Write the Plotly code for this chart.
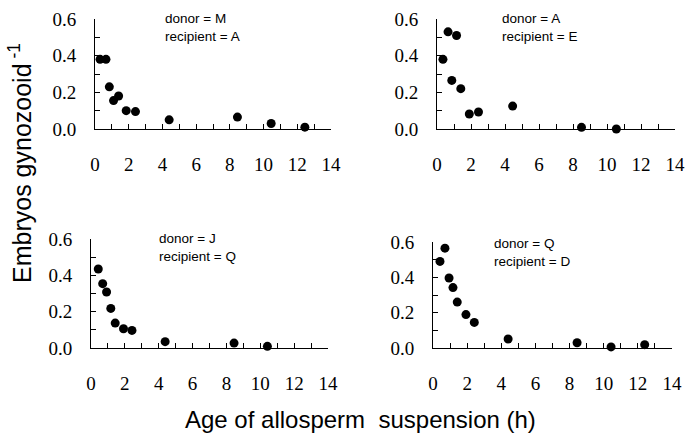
import plotly.graph_objects as go

W, H = 687, 435

# ---- data ----
x_mA = [0.3, 0.65, 0.85, 1.1, 1.4, 1.85, 2.4, 4.4, 8.45, 10.45, 12.45]
y_mA = [0.38, 0.38, 0.23, 0.155, 0.18, 0.10, 0.095, 0.05, 0.065, 0.03, 0.01]

x_aE = [0.35, 0.65, 0.87, 1.15, 1.4, 1.9, 2.44, 4.45, 8.5, 10.55]
y_aE = [0.38, 0.53, 0.265, 0.51, 0.22, 0.082, 0.093, 0.125, 0.009, 0.0]

x_jQ = [0.43, 0.69, 0.92, 1.17, 1.43, 1.92, 2.42, 4.38, 8.45, 10.42]
y_jQ = [0.435, 0.354, 0.308, 0.218, 0.137, 0.106, 0.097, 0.035, 0.027, 0.009]

x_qD = [0.41, 0.7, 0.94, 1.17, 1.42, 1.93, 2.42, 4.4, 8.44, 10.43, 12.4]
y_qD = [0.49, 0.565, 0.396, 0.342, 0.26, 0.189, 0.145, 0.051, 0.03, 0.006, 0.019]

panel_labels = ["donor = M<br>recipient = A", "donor = A<br>recipient = E",
                "donor = J<br>recipient = Q", "donor = Q<br>recipient = D"]
x_ticks = [0, 2, 4, 6, 8, 10, 12, 14]
y_ticks = [0.0, 0.2, 0.4, 0.6]
y_tick_text = ["0.0", "0.2", "0.4", "0.6"]
x_title = "Age of allosperm\u00a0 suspension (h)"
y_title = "Embryos gynozooid<sup> -1</sup>"

series = [(x_mA, y_mA), (x_aE, y_aE), (x_jQ, y_jQ), (x_qD, y_qD)]

# pixel boxes of each panel (left, right, top, bottom)
boxes = [(95, 331, 19, 129), (437, 675, 19, 129), (91, 328, 239, 348), (433, 672, 242, 348)]
label_pos = [(163, 9), (500, 9), (157, 229), (492, 234)]

fig = go.Figure()
serif = "Liberation Serif, Times New Roman, serif"
sans = "Liberation Sans, Arial, sans-serif"

for i, ((xs, ys), (l, r, t, b)) in enumerate(zip(series, boxes)):
    n = "" if i == 0 else str(i + 1)
    fig.add_trace(go.Scatter(x=xs, y=ys, mode="markers", xaxis="x" + n, yaxis="y" + n,
                             marker=dict(color="black", size=9), cliponaxis=False,
                             showlegend=False))
    fig.layout["xaxis" + n] = dict(
        domain=[l / W, r / W], anchor="y" + n, range=[0, 14], tickvals=x_ticks,
        ticks="inside", ticklen=5, tickwidth=1, tickcolor="black",
        minor=dict(dtick=1, ticks="inside", ticklen=5, tickwidth=1, tickcolor="black"),
        showline=True, linecolor="black", linewidth=1, showgrid=False, zeroline=False,
        tickfont=dict(family=serif, size=19, color="black"), ticklabelstandoff=18,
        automargin=False,
    )
    fig.layout["yaxis" + n] = dict(
        domain=[1 - b / H, 1 - t / H], anchor="x" + n, range=[0, 0.6],
        tickvals=y_ticks, ticktext=y_tick_text,
        ticks="inside", ticklen=5, tickwidth=1, tickcolor="black",
        minor=dict(dtick=0.1, ticks="inside", ticklen=5, tickwidth=1, tickcolor="black"),
        showline=True, linecolor="black", linewidth=1, showgrid=False, zeroline=False,
        tickfont=dict(family=serif, size=19, color="black"), ticklabelstandoff=14,
        automargin=False,
    )
    lx, ly = label_pos[i]
    fig.add_annotation(x=lx / W, y=1 - ly / H, xref="paper", yref="paper",
                       xanchor="left", yanchor="top", align="left", showarrow=False,
                       text=panel_labels[i], font=dict(family=sans, size=13.5, color="black"))

fig.add_annotation(x=360 / W, y=1 - 419 / H, xref="paper", yref="paper",
                   xanchor="center", yanchor="middle", showarrow=False,
                   text=x_title, font=dict(family=sans, size=24, color="black"))
fig.add_annotation(x=20 / W, y=1 - 163 / H, xref="paper", yref="paper",
                   xanchor="center", yanchor="middle", showarrow=False, textangle=-90,
                   text=y_title, font=dict(family=sans, size=25, color="black"))

fig.update_layout(width=W, height=H, margin=dict(l=0, r=0, t=0, b=0, autoexpand=False),
                  font=dict(family=serif, color="black"),
                  paper_bgcolor="white", plot_bgcolor="white")

fig.write_html("out.html", config={"displayModeBar": False},
               post_script="document.body.style.margin='0';document.body.style.overflow='hidden';")
